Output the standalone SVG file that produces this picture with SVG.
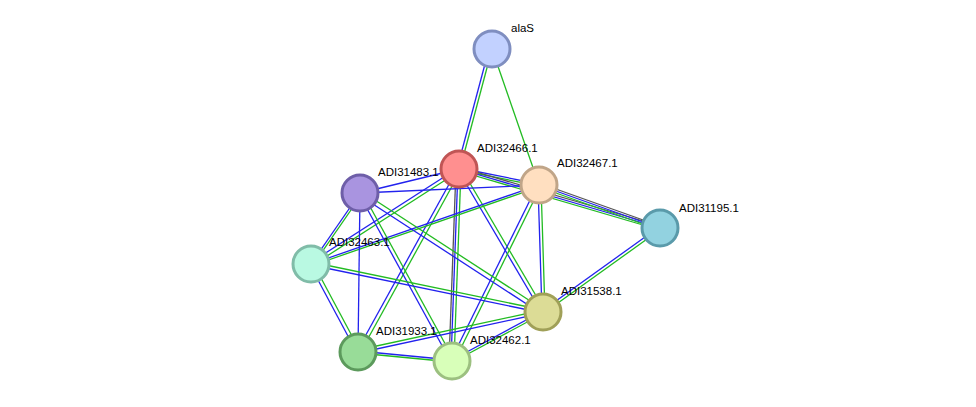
<svg xmlns="http://www.w3.org/2000/svg" width="976" height="407" viewBox="0 0 976 407">
<style>
.g{stroke:#22bb22;stroke-width:1.3}
.b{stroke:#2222ee;stroke-width:1.3}
.k{stroke:#555;stroke-width:1.3}
circle{stroke-width:3}
text{font-family:"Liberation Sans",Arial,sans-serif;font-size:11.5px;fill:#000}
</style>
<rect width="976" height="407" fill="#fff"/>
<g id="edges">
<line class="g" x1="492" y1="49" x2="460" y2="169"/><line class="b" x1="489" y1="49" x2="457" y2="169"/>
<line class="g" x1="492" y1="49" x2="539" y2="185"/>
<line class="g" x1="459" y1="170" x2="539" y2="186"/><line class="b" x1="459" y1="168" x2="539" y2="184"/>
<line class="g" x1="459" y1="171" x2="660" y2="230"/><line class="b" x1="459" y1="169" x2="660" y2="228"/><line class="k" x1="459" y1="167" x2="660" y2="226"/>
<line class="g" x1="539" y1="187" x2="660" y2="230"/><line class="b" x1="539" y1="185" x2="660" y2="228"/><line class="k" x1="539" y1="183" x2="660" y2="226"/>
<line class="b" x1="459" y1="169" x2="360" y2="193"/>
<line class="g" x1="461" y1="170" x2="313" y2="265"/><line class="b" x1="458" y1="168" x2="310" y2="263"/>
<line class="g" x1="461" y1="168" x2="545" y2="311"/><line class="b" x1="458" y1="170" x2="542" y2="313"/>
<line class="g" x1="461" y1="170" x2="360" y2="353"/><line class="b" x1="458" y1="168" x2="357" y2="351"/>
<line class="g" x1="461" y1="169" x2="454" y2="361"/><line class="b" x1="458" y1="169" x2="451" y2="361"/><line class="k" x1="456" y1="169" x2="449" y2="361"/>
<line class="b" x1="539" y1="185" x2="360" y2="193"/>
<line class="b" x1="539" y1="185" x2="311" y2="264"/><line class="g" x1="539" y1="187" x2="311" y2="266"/>
<line class="g" x1="541" y1="185" x2="545" y2="312"/><line class="b" x1="538" y1="185" x2="542" y2="312"/>
<line class="g" x1="541" y1="186" x2="454" y2="362"/><line class="b" x1="538" y1="184" x2="451" y2="360"/>
<line class="b" x1="360" y1="193" x2="311" y2="264"/>
<line class="b" x1="360" y1="193" x2="358" y2="352"/>
<line class="g" x1="361" y1="191" x2="544" y2="310"/><line class="b" x1="359" y1="195" x2="542" y2="314"/>
<line class="g" x1="362" y1="192" x2="454" y2="360"/><line class="b" x1="359" y1="194" x2="451" y2="362"/>
<line class="g" x1="360" y1="193" x2="311" y2="264" transform="translate(2,1)"/>
<line class="g" x1="313" y1="263" x2="360" y2="351"/><line class="b" x1="310" y1="265" x2="357" y2="353"/>
<line class="g" x1="311" y1="262" x2="543" y2="310"/><line class="b" x1="311" y1="265" x2="543" y2="313"/>
<line class="g" x1="544" y1="313" x2="661" y2="229"/><line class="b" x1="542" y1="311" x2="659" y2="227"/>
<line class="g" x1="358" y1="350" x2="543" y2="310"/><line class="b" x1="358" y1="353" x2="543" y2="313"/>
<line class="b" x1="543" y1="311" x2="452" y2="360"/><line class="g" x1="544" y1="313" x2="453" y2="362"/>
<line class="b" x1="358" y1="351" x2="452" y2="360"/><line class="g" x1="358" y1="353" x2="452" y2="362"/>
</g>
<g id="alaS"><circle cx="492" cy="49" r="18" fill="#c2d1ff" stroke="#7f8ec0"/><text x="511" y="32">alaS</text></g>
<g id="ADI32466.1"><circle cx="459" cy="169" r="18" fill="#ff8f8f" stroke="#c05555"/><text x="477" y="152">ADI32466.1</text></g>
<g id="ADI32467.1"><circle cx="539" cy="185" r="18" fill="#ffdfc0" stroke="#c0a588"/><text x="557" y="167">ADI32467.1</text></g>
<g id="ADI31483.1"><circle cx="360" cy="193" r="18" fill="#a994e0" stroke="#6e5ea8"/><text x="378" y="176">ADI31483.1</text></g>
<g id="ADI31195.1"><circle cx="660" cy="228" r="18" fill="#92d2e0" stroke="#5a9aaa"/><text x="679" y="212">ADI31195.1</text></g>
<g id="ADI32463.1"><circle cx="311" cy="264" r="18" fill="#b9f9e2" stroke="#80bca8"/><text x="329" y="246">ADI32463.1</text></g>
<g id="ADI31538.1"><circle cx="543" cy="312" r="18" fill="#dcdc96" stroke="#a0a058"/><text x="561" y="295">ADI31538.1</text></g>
<g id="ADI31933.1"><circle cx="358" cy="352" r="18" fill="#98dc98" stroke="#5c9a5c"/><text x="376" y="335">ADI31933.1</text></g>
<g id="ADI32462.1"><circle cx="452" cy="361" r="18" fill="#d8ffb9" stroke="#9cc080"/><text x="470" y="344">ADI32462.1</text></g>
</svg>
